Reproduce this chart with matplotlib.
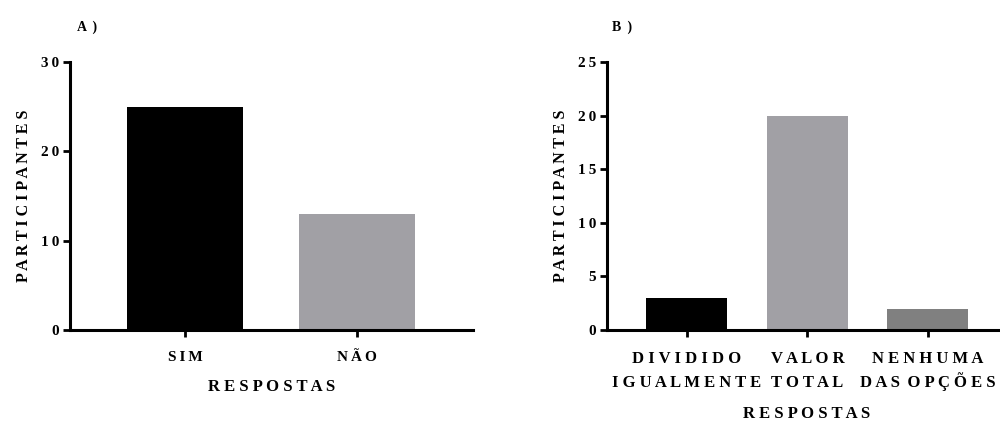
import matplotlib
matplotlib.use("Agg")
import matplotlib.pyplot as plt

plt.rcParams['font.family'] = ['Liberation Serif', 'DejaVu Serif']
plt.rcParams['font.weight'] = 'bold'
plt.rcParams['axes.labelweight'] = 'bold'

# panel A
cats_a = ["SIM", "NÃO"]
vals_a = [25, 13]
cols_a = ["#000000", "#a1a0a5"]

# panel B (two-line labels)
cats_b_top = ["DIVIDIDO", "VALOR", "NENHUMA"]
cats_b_bot = ["IGUALMENTE", "TOTAL", "DAS OPÇÕES"]
vals_b = [3, 20, 2]
cols_b = ["#000000", "#a1a0a5", "#808080"]


def spaced(s, sep=" ", wsep="  "):
    # fake the wide letter spacing of the original
    return wsep.join(sep.join(w) for w in s.split(" "))


fig = plt.figure(figsize=(10, 4.21), dpi=100)
ax_a = fig.add_axes([0.070, 0.216, 0.403, 0.637])
ax_b = fig.add_axes([0.607, 0.216, 0.393, 0.637])


def style(ax, ymax, step):
    for s in ("top", "right"):
        ax.spines[s].set_visible(False)
    for s in ("left", "bottom"):
        ax.spines[s].set_linewidth(2.2)
    ticks = list(range(0, ymax + 1, step))
    ax.set_ylim(0, ymax)
    ax.set_yticks(ticks)
    ax.set_yticklabels([spaced(str(t), "\u2009") for t in ticks])
    ax.tick_params(axis="both", width=2.0, length=5, direction="out")
    ax.tick_params(axis="y", labelsize=11, pad=3)
    ax.tick_params(axis="x", which="major", pad=10)
    ax.set_ylabel(spaced("PARTICIPANTES"), fontsize=11.5, labelpad=6)


x = list(range(len(cats_a)))
ax_a.bar(x, vals_a, width=0.67, color=cols_a)
ax_a.set_xlim(-0.669, 1.674)
ax_a.set_xticks(x)
ax_a.set_xticklabels([spaced(c, "\u2009") for c in cats_a], fontsize=11)
style(ax_a, 30, 10)
ax_a.set_xlabel(spaced("RESPOSTAS"), fontsize=12, labelpad=11)

x = list(range(len(cats_b_top)))
ax_b.bar(x, vals_b, width=0.672, color=cols_b)
ax_b.set_xlim(-0.664, 2.6)
ax_b.set_xticks(x)
ax_b.set_xticklabels([spaced(c) for c in cats_b_top], fontsize=12)
# second line of each label on the minor ticks, baseline aligned
ax_b.xaxis.remove_overlapping_locs = False
ax_b.set_xticks(x, minor=True)
ax_b.set_xticklabels([spaced(c, " ", " \u2009") for c in cats_b_bot],
                     minor=True, fontsize=12, va="baseline")
style(ax_b, 25, 5)
ax_b.tick_params(axis="x", which="minor", length=0, pad=41)
ax_b.set_xlabel(spaced("RESPOSTAS"), fontsize=12)
ax_b.xaxis.set_label_coords(0.507, -0.284)

fig.text(0.077, 0.927, "A \u2009)", fontsize=10, fontweight="bold")
fig.text(0.612, 0.927, "B \u2009)", fontsize=10, fontweight="bold")

fig.savefig("out.png", dpi=100)
